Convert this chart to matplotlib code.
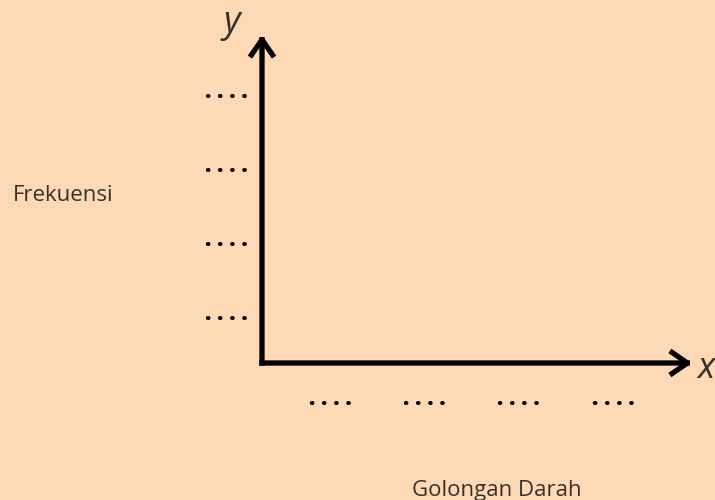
import matplotlib
matplotlib.use("Agg")
import matplotlib.pyplot as plt

# blank template: categories and frequency slots are placeholders
x_ticks = [1, 2, 3, 4]
x_labels = [". . . ."] * 4
y_ticks = [1, 2, 3, 4]
y_labels = [". . . ."] * 4

bg = "#fdd9b5"
text_color = "#3a3029"

plt.rcParams["font.family"] = ["Open Sans", "DejaVu Sans"]

W, H = 715, 500
fig = plt.figure(figsize=(W / 100, H / 100), dpi=100, facecolor=bg)
# origin at (262, 363) px, arrow tips at x=692 / y=35
ax = fig.add_axes([262 / W, (H - 363) / H, (692 - 262) / W, (363 - 35) / H])
ax.set_facecolor(bg)
ax.patch.set_alpha(0)

ax.set_xlim(0.27, 4.84)
ax.set_ylim(0.42, 4.85)

for s in ax.spines.values():
    s.set_visible(False)

# axes drawn as arrows
arrow = dict(arrowstyle="->,head_length=0.55,head_width=0.38", color="black",
             lw=3.8, shrinkA=0, shrinkB=0, mutation_scale=20,
             joinstyle="round", capstyle="projecting")
ax.annotate("", xy=(1, 0), xytext=(0, 0), xycoords="axes fraction",
            arrowprops=arrow)
ax.annotate("", xy=(0, 1), xytext=(0, 0), xycoords="axes fraction",
            arrowprops=arrow)

ax.set_xticks(x_ticks)
ax.set_xticklabels(x_labels, fontsize=16, fontweight="heavy", color="black",
                   va="baseline")
ax.set_yticks(y_ticks)
ax.set_yticklabels(y_labels, fontsize=16, fontweight="heavy", color="black",
                   va="baseline")
ax.tick_params(axis="both", length=0)
ax.tick_params(axis="x", pad=30)
ax.tick_params(axis="y", pad=10)

fig.text(232 / W, 1 - 32 / H, "y", fontsize=26, style="italic",
         color=text_color, ha="center", va="baseline")
fig.text(697 / W, 1 - 378 / H, "x", fontsize=26, style="italic",
         color=text_color, ha="left", va="baseline")

fig.text(13 / W, 1 - 201 / H, "Frekuensi", fontsize=16,
         color=text_color, ha="left", va="baseline")
fig.text(497 / W, 1 - 496 / H, "Golongan Darah", fontsize=16,
         color=text_color, ha="center", va="baseline")

fig.savefig("out.png", dpi=100, facecolor=bg)
